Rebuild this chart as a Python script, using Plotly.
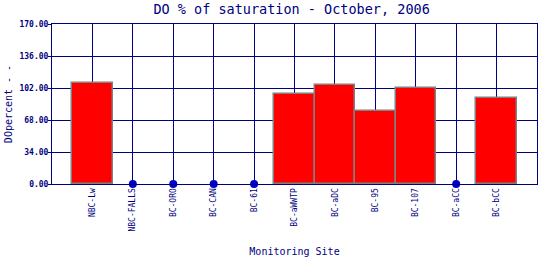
import plotly.graph_objects as go

sites = ["NBC-Lw", "NBC-FALLS", "BC-ORO", "BC-CAN", "BC-61", "BC-aWWTP",
         "BC-aDC", "BC-95", "BC-107", "BC-aCC", "BC-bCC"]
values = [107.0, None, None, None, None, 95.5, 105.0, 77.5, 101.5, None, 91.0]
y_ticks = [0, 34, 68, 102, 136, 170]

navy = "#000080"
xs = list(range(len(sites)))
bar_x = [x for x, v in zip(xs, values) if v is not None]
bar_y = [v for v in values if v is not None]
dot_x = [x for x, v in zip(xs, values) if v is None]
dot_y = [0 for v in values if v is None]

fig = go.Figure()
fig.add_trace(go.Bar(x=bar_x, y=bar_y, width=1.0,
                     marker=dict(color="#FF0000", line=dict(color="#808080", width=1.5))))
fig.add_trace(go.Scatter(x=dot_x, y=dot_y, mode="markers", cliponaxis=False,
                         marker=dict(color="#0000CC", size=8)))

fig.update_layout(
    width=540, height=260, showlegend=False,
    margin=dict(l=52, r=3, t=24, b=76),
    paper_bgcolor="white", plot_bgcolor="white",
    font=dict(family="DejaVu Sans Mono", color=navy),
    title=dict(text="DO % of saturation - October, 2006", x=0.54, xanchor="center",
               y=0.966, yanchor="middle", font=dict(size=13.5, color=navy, weight="normal")),
    bargap=0,
)
fig.update_xaxes(range=[-1, 11], tickmode="array", tickvals=xs, ticktext=sites,
                 tickangle=-90, tickfont=dict(size=8, color=navy),
                 showgrid=True, gridcolor=navy, gridwidth=1,
                 showline=True, linecolor=navy, linewidth=1, mirror=True,
                 ticks="", zeroline=False,
                 title=dict(text="Monitoring Site", font=dict(size=10, color=navy), standoff=17))
fig.update_yaxes(range=[0, 170], tickmode="array", tickvals=y_ticks,
                 ticktext=[f"{v:.2f}" for v in y_ticks],
                 tickfont=dict(size=8, color=navy, weight="bold"),
                 showgrid=True, gridcolor=navy, gridwidth=1,
                 showline=True, linecolor=navy, linewidth=1, mirror=True,
                 ticks="outside", ticklen=3, tickcolor=navy, zeroline=False,
                 ticklabelstandoff=-2,
                 title=dict(text="DOpercent - -", font=dict(size=10, color=navy), standoff=4))

fig.write_html("out.html")
